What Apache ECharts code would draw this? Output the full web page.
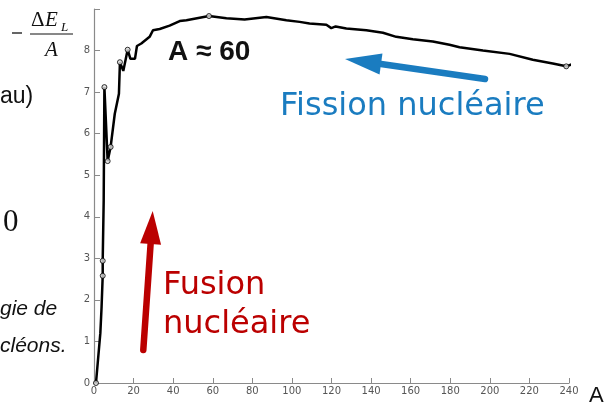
<!DOCTYPE html>
<html><head><meta charset="utf-8">
<script src="https://cdn.jsdelivr.net/npm/echarts@6/dist/echarts.min.js"></script>
<style>html,body{margin:0;padding:0;background:#fff}#c{width:615px;height:407px}</style>
</head><body><div id="c"></div>
<script>
// Binding energy per nucleon curve
var massA = [1, 3.2, 3.8, 4.4, 4.4, 4.9, 5.25, 6.9, 8.4, 10.5, 12.6, 13.1, 14.8, 17.0, 18.4, 20.7, 21.7, 23.9, 28.1, 29.8, 33.2, 38.2, 43.3, 46.7, 58.1, 66.9, 76.1, 87.1, 97.2, 103.9, 108.9, 117.4, 119.9, 122.1, 127.5, 137.6, 146, 152.7, 161.1, 171.2, 179.6, 184.7, 196.5, 210, 221.7, 231.8, 238.6, 243.6];
var energyPerNucleon = [0, 1.2, 1.8, 2.58, 2.94, 4.4, 7.12, 5.34, 5.68, 6.48, 6.96, 7.72, 7.51, 8.02, 7.8, 7.8, 8.11, 8.17, 8.33, 8.49, 8.52, 8.6, 8.71, 8.73, 8.83, 8.78, 8.75, 8.81, 8.73, 8.69, 8.65, 8.62, 8.54, 8.58, 8.53, 8.49, 8.43, 8.33, 8.27, 8.22, 8.14, 8.08, 8.0, 7.92, 7.78, 7.69, 7.62, 7.71];
var markerA = [1, 4.4, 4.4, 5.25, 6.9, 8.4, 13.1, 17.0, 58.1, 238.6];
var markerE = [0, 2.58, 2.94, 7.12, 5.34, 5.68, 7.72, 8.02, 8.83, 7.62];
var xTicks = [0, 20, 40, 60, 80, 100, 120, 140, 160, 180, 200, 220, 240];
var yTicks = [0, 1, 2, 3, 4, 5, 6, 7, 8, 9];

var curve = massA.map(function (a, i) { return [a, energyPerNucleon[i]]; });
var marks = markerA.map(function (a, i) { return [a, markerE[i]]; });

var chart = echarts.init(document.getElementById('c'), null, {renderer: 'canvas'});
var axisColor = '#8a8a8a';
var labelStyle = {color: '#555', fontSize: 10, fontFamily: 'DejaVu Sans'};

function arrow(x1, y1, x2, y2, hx, hy, hw, color, w) {
  var dx = hx - x2, dy = hy - y2, L = Math.sqrt(dx*dx + dy*dy);
  var nx = -dy / L * hw, ny = dx / L * hw;
  return [
    {type: 'line', shape: {x1: x1, y1: y1, x2: x2, y2: y2}, style: {stroke: color, lineWidth: w, lineCap: 'round'}, z: 10},
    {type: 'polygon', shape: {points: [[hx, hy], [x2 + nx, y2 + ny], [x2 - nx, y2 - ny]]}, style: {fill: color}, z: 10}
  ];
}

var graphics = [].concat(
  arrow(143.3, 350, 150.6, 244, 152.7, 211, 10.5, '#bb0000', 6.5),
  arrow(485, 79, 381, 64, 345, 59, 10.5, '#1a7cc0', 6.5),
  [
    {type: 'text', style: {text: 'Fission nucléaire', x: 280, y: 107, font: '32px "DejaVu Sans"', fill: '#1a7cc0', verticalAlign: 'middle'}},
    {type: 'text', style: {text: 'Fusion', x: 163, y: 286, font: '32px "DejaVu Sans"', fill: '#bb0000', verticalAlign: 'middle'}},
    {type: 'text', style: {text: 'nucléaire', x: 163, y: 325, font: '32px "DejaVu Sans"', fill: '#bb0000', verticalAlign: 'middle'}},
    {type: 'text', style: {text: 'A ≈ 60', x: 168, y: 52, font: 'bold 28px "Liberation Sans"', fill: '#111', verticalAlign: 'middle'}},
    {type: 'text', style: {text: 'au)', x: 0, y: 97, font: '23px "Liberation Sans"', fill: '#111', verticalAlign: 'middle'}},
    {type: 'text', style: {text: '0', x: 3, y: 223, font: '31px "Liberation Serif"', fill: '#111', verticalAlign: 'middle'}},
    {type: 'text', style: {text: 'gie de', x: 0, y: 309, font: 'italic 21px "Liberation Sans"', fill: '#111', verticalAlign: 'middle'}},
    {type: 'text', style: {text: 'cléons.', x: 0, y: 346, font: 'italic 21px "Liberation Sans"', fill: '#111', verticalAlign: 'middle'}},
    {type: 'text', style: {text: 'A', x: 589, y: 396, font: '22px "Liberation Sans"', fill: '#111', verticalAlign: 'middle'}},
    {type: 'line', shape: {x1: 12, y1: 33, x2: 22, y2: 33}, style: {stroke: '#111', lineWidth: 1.3}},
    {type: 'text', style: {text: 'Δ', x: 31, y: 20, font: '21px "Liberation Serif"', fill: '#111', verticalAlign: 'middle'}},
    {type: 'text', style: {text: 'E', x: 45, y: 20, font: 'italic 21px "Liberation Serif"', fill: '#111', verticalAlign: 'middle'}},
    {type: 'text', style: {text: 'L', x: 61, y: 28, font: 'italic 13px "Liberation Serif"', fill: '#111', verticalAlign: 'middle'}},
    {type: 'line', shape: {x1: 30, y1: 34, x2: 73, y2: 34}, style: {stroke: '#111', lineWidth: 1}},
    {type: 'text', style: {text: 'A', x: 45, y: 50, font: 'italic 21px "Liberation Serif"', fill: '#111', verticalAlign: 'middle'}}
  ]
);

chart.setOption({
  animation: false,
  backgroundColor: '#fff',
  grid: {left: 94, right: 46, top: 9, bottom: 24, containLabel: false},
  xAxis: {
    type: 'value', min: xTicks[0], max: xTicks[xTicks.length - 1], interval: 20,
    axisLine: {lineStyle: {color: axisColor, width: 1.2}},
    axisTick: {inside: true, length: 5, lineStyle: {color: axisColor}},
    axisLabel: Object.assign({margin: 3}, labelStyle),
    splitLine: {show: false}
  },
  yAxis: {
    type: 'value', min: yTicks[0], max: yTicks[yTicks.length - 1], interval: 1,
    axisLine: {show: true, lineStyle: {color: axisColor, width: 1.2}},
    axisTick: {show: true, inside: true, length: 6, lineStyle: {color: axisColor}},
    axisLabel: Object.assign({margin: 4, formatter: function (v) { return v === 9 ? '' : String(v); }}, labelStyle),
    splitLine: {show: false}
  },
  series: [
    {type: 'line', data: curve, showSymbol: false, symbol: 'none', clip: false,
     lineStyle: {color: '#000', width: 2.5}, z: 3},
    {type: 'scatter', data: marks, symbol: 'circle', symbolSize: 5, clip: false,
     itemStyle: {color: '#ddd', borderColor: '#000', borderWidth: 1}, z: 4}
  ],
  graphic: graphics
});
</script></body></html>
